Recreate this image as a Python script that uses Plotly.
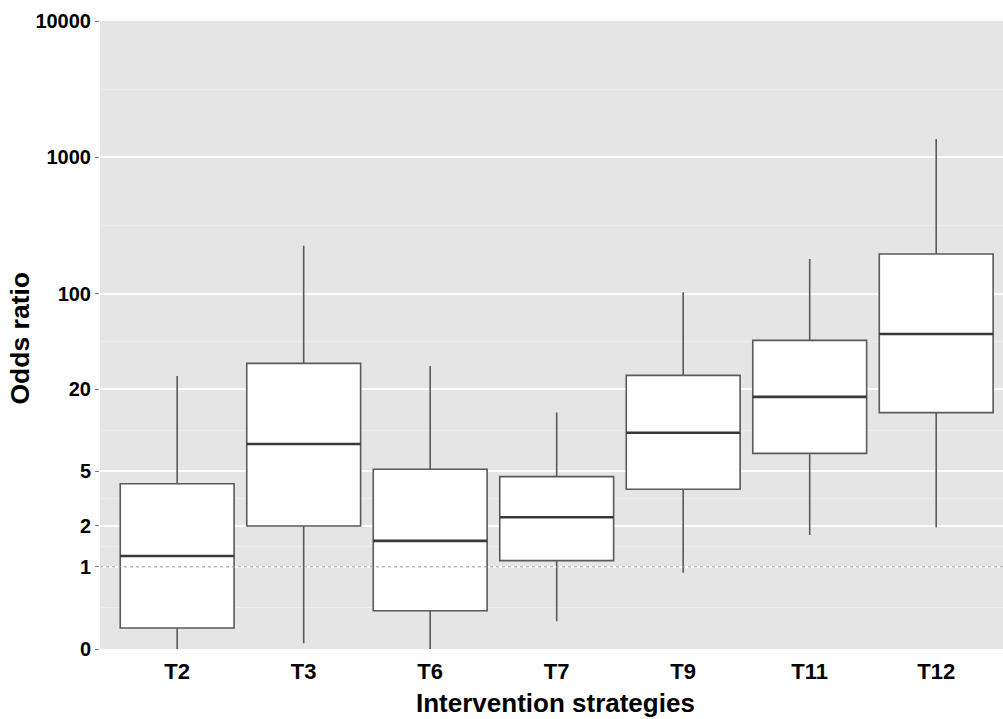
import math
import plotly.graph_objects as go

# ---- data ----
categories = ["T2", "T3", "T6", "T7", "T9", "T11", "T12"]
lower_whisker = [0.20, 0.275, 0.22, 0.40, 0.906, 1.71, 1.94]
q1_values = [0.356, 1.99, 0.477, 1.11, 3.70, 6.79, 13.5]
median_values = [1.20, 7.95, 1.55, 2.31, 9.62, 17.6, 50.8]
q3_values = [4.06, 31.0, 5.19, 4.58, 25.3, 45.7, 196.0]
upper_whisker = [25.0, 225.0, 29.6, 13.5, 103.0, 180.0, 1365.0]

y_tick_values = [0.25, 1, 2, 5, 20, 100, 1000, 10000]
y_tick_labels = ["0", "1", "2", "5", "20", "100", "1000", "10000"]
reference_line = 1

# minor grid lines halfway (in log space) between the labelled ticks
minor_values = [math.sqrt(a * b) for a, b in zip(y_tick_values[:-1], y_tick_values[1:])]

FONT = "Liberation Sans, Arial, Helvetica, sans-serif"

fig = go.Figure()

fig.add_trace(go.Box(
    x=categories,
    q1=q1_values,
    median=median_values,
    q3=q3_values,
    lowerfence=lower_whisker,
    upperfence=upper_whisker,
    width=0.9,
    whiskerwidth=0,
    fillcolor="white",
    line=dict(color="#5a5a5a", width=1.6),
    boxpoints=False,
    showlegend=False,
    hoverinfo="skip",
))

# thicker median line drawn over the boxes
fig.add_trace(go.Box(
    x=categories,
    q1=median_values,
    median=median_values,
    q3=median_values,
    lowerfence=median_values,
    upperfence=median_values,
    width=0.9,
    whiskerwidth=0,
    fillcolor="rgba(0,0,0,0)",
    line=dict(color="#383838", width=2.6),
    boxpoints=False,
    showlegend=False,
    hoverinfo="skip",
))

fig.add_shape(
    type="line", xref="paper", x0=0, x1=1, yref="y",
    y0=reference_line, y1=reference_line,
    line=dict(color="#9a9a9a", width=1, dash="dot"),
    layer="above",
)

fig.update_layout(
    width=1003,
    height=719,
    margin=dict(l=100, r=0, t=21, b=70),
    paper_bgcolor="white",
    plot_bgcolor="#E5E5E5",
    boxmode="overlay",
    font=dict(family=FONT, color="black"),
    xaxis=dict(
        type="category",
        range=[-0.61, 6.528],
        showgrid=False,
        zeroline=False,
        showline=False,
        ticks="",
        tickfont=dict(family=FONT, size=22, color="black", weight="bold"),
        ticklabelstandoff=7,
    ),
    yaxis=dict(
        type="log",
        range=[math.log10(y_tick_values[0]), math.log10(y_tick_values[-1])],
        tickmode="array",
        tickvals=y_tick_values,
        ticktext=y_tick_labels,
        tickfont=dict(family=FONT, size=20, color="black", weight="bold"),
        ticks="outside",
        ticklen=4,
        tickwidth=1,
        tickcolor="#7f7f7f",
        ticklabelstandoff=0,
        showgrid=True,
        gridcolor="white",
        gridwidth=1.8,
        zeroline=False,
        showline=False,
        minor=dict(
            tickmode="array",
            tickvals=minor_values,
            showgrid=True,
            gridcolor="#EEEEEE",
            gridwidth=1,
            ticks="",
        ),
    ),
    annotations=[
        dict(
            text="Odds ratio", xref="paper", yref="paper",
            x=-0.0886, y=0.496, xanchor="center", yanchor="middle",
            textangle=-90, showarrow=False,
            font=dict(family=FONT, size=26.5, color="black", weight="bold"),
        ),
        dict(
            text="Intervention strategies", xref="paper", yref="paper",
            x=0.5044, y=-0.086, xanchor="center", yanchor="middle",
            showarrow=False,
            font=dict(family=FONT, size=26, color="black", weight="bold"),
        ),
    ],
)

fig.write_html(
    "out.html",
    config={"displayModeBar": False},
    post_script="document.body.style.margin='0';document.body.style.overflow='hidden';",
)
